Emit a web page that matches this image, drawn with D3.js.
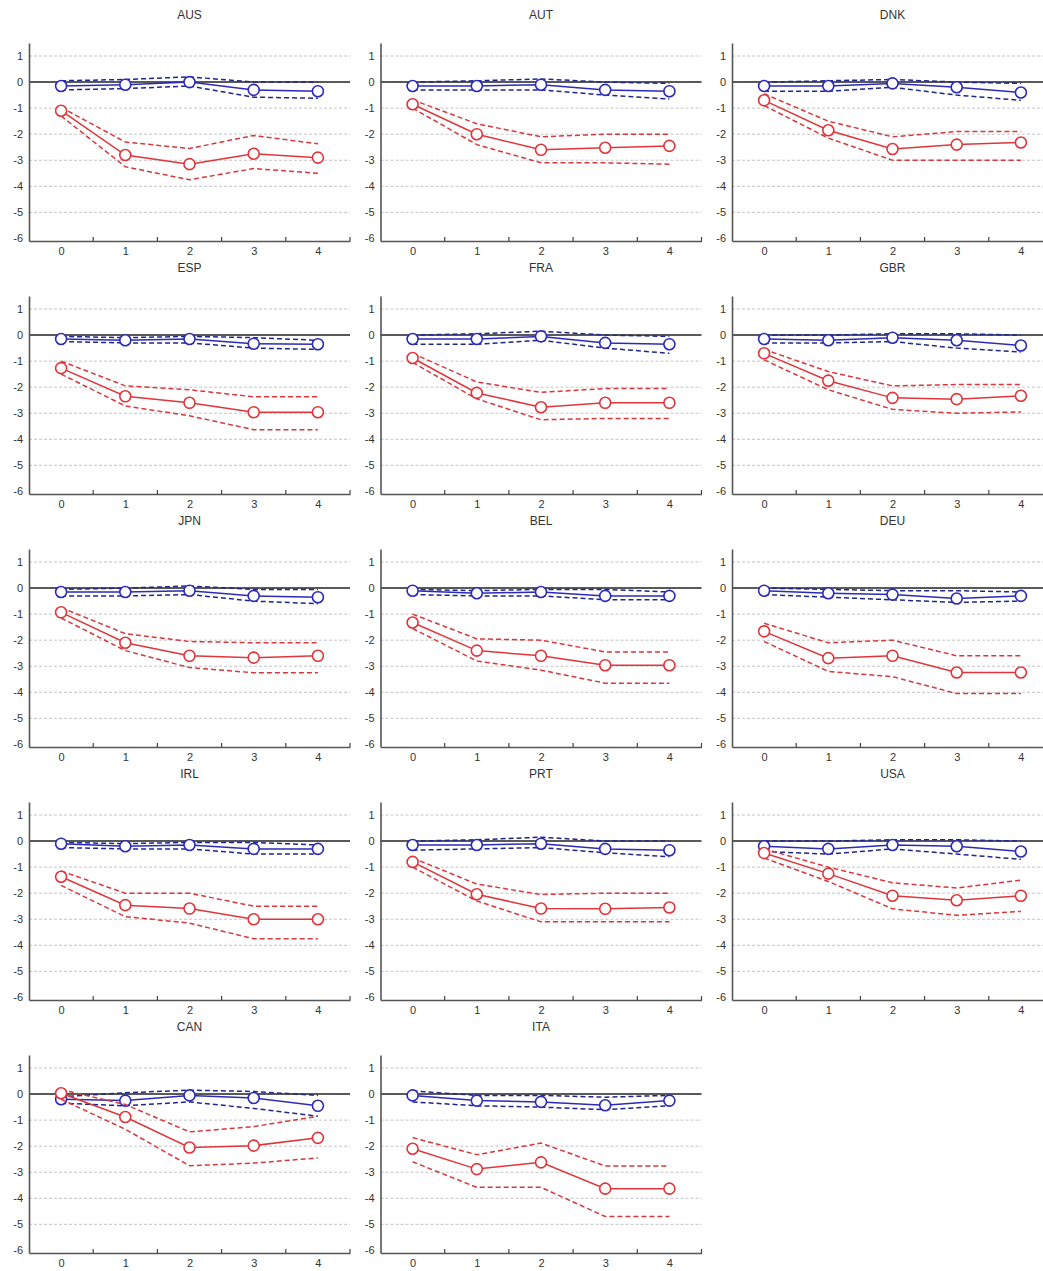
<!DOCTYPE html>
<html lang="en">
<head>
<meta charset="UTF-8">
<title>Responses by country</title>
<style>
  body { margin: 0; background: #fff; }
  svg text { font-family: Arial, "Liberation Sans", sans-serif; fill: #333; }
</style>
</head>
<body>
<svg width="1043" height="1271"></svg>
<script src="https://d3js.org/d3.v7.min.js"></script>
<script>

var countries = ["AUS", "AUT", "DNK", "ESP", "FRA", "GBR", "JPN", "BEL", "DEU", "IRL", "PRT", "USA", "CAN", "ITA"];
var horizons = [0, 1, 2, 3, 4];
var yTicks = [1, 0, -1, -2, -3, -4, -5, -6];
var gridValues = [1, -1, -2, -3, -4, -5];
var xMinorTicks = [0.5, 1.5, 2.5, 3.5, 4.5];

// blue series (one row per country, same order as countries)
var blueMean = [
  [-0.15, -0.1, 0.0, -0.3, -0.35],
  [-0.15, -0.15, -0.1, -0.3, -0.35],
  [-0.15, -0.15, -0.05, -0.2, -0.4],
  [-0.15, -0.2, -0.15, -0.33, -0.35],
  [-0.15, -0.15, -0.05, -0.3, -0.35],
  [-0.15, -0.2, -0.1, -0.2, -0.4],
  [-0.15, -0.15, -0.1, -0.3, -0.35],
  [-0.1, -0.2, -0.15, -0.3, -0.3],
  [-0.1, -0.2, -0.25, -0.4, -0.3],
  [-0.1, -0.2, -0.15, -0.3, -0.3],
  [-0.15, -0.15, -0.1, -0.3, -0.35],
  [-0.2, -0.3, -0.15, -0.2, -0.4],
  [-0.2, -0.25, -0.05, -0.15, -0.45],
  [-0.05, -0.25, -0.3, -0.43, -0.25]
];
var blueUpper = [
  [0.05, 0.1, 0.2, 0.0, 0.0],
  [0.0, 0.05, 0.12, 0.0, -0.05],
  [0.0, 0.05, 0.1, 0.0, -0.05],
  [-0.05, -0.1, -0.05, -0.1, -0.2],
  [0.0, 0.05, 0.15, 0.0, -0.05],
  [0.0, 0.0, 0.05, 0.05, 0.0],
  [-0.05, 0.0, 0.08, -0.05, -0.05],
  [-0.05, -0.1, -0.05, -0.05, -0.15],
  [0.0, -0.05, -0.1, -0.1, -0.15],
  [-0.05, -0.1, -0.05, -0.05, -0.15],
  [0.0, 0.05, 0.15, 0.0, 0.0],
  [0.0, 0.0, 0.05, 0.05, 0.0],
  [-0.1, 0.05, 0.15, 0.1, -0.05],
  [0.12, -0.05, -0.05, -0.12, -0.05]
];
var blueLower = [
  [-0.3, -0.25, -0.15, -0.58, -0.62],
  [-0.3, -0.3, -0.3, -0.5, -0.65],
  [-0.35, -0.35, -0.2, -0.5, -0.7],
  [-0.25, -0.3, -0.3, -0.5, -0.55],
  [-0.35, -0.35, -0.2, -0.5, -0.7],
  [-0.3, -0.3, -0.25, -0.5, -0.65],
  [-0.3, -0.3, -0.25, -0.5, -0.6],
  [-0.25, -0.3, -0.3, -0.45, -0.45],
  [-0.25, -0.35, -0.45, -0.55, -0.5],
  [-0.25, -0.3, -0.3, -0.5, -0.5],
  [-0.35, -0.3, -0.25, -0.45, -0.6],
  [-0.4, -0.5, -0.3, -0.5, -0.7],
  [-0.35, -0.45, -0.3, -0.55, -0.85],
  [-0.3, -0.45, -0.5, -0.6, -0.45]
];

// red series
var redMean = [
  [-1.1, -2.8, -3.15, -2.75, -2.9],
  [-0.85, -2.0, -2.6, -2.52, -2.45],
  [-0.7, -1.85, -2.57, -2.4, -2.32],
  [-1.27, -2.35, -2.6, -2.96, -2.96],
  [-0.88, -2.22, -2.77, -2.6, -2.6],
  [-0.7, -1.75, -2.41, -2.46, -2.33],
  [-0.93, -2.1, -2.6, -2.67, -2.6],
  [-1.32, -2.4, -2.6, -2.96, -2.96],
  [-1.66, -2.69, -2.6, -3.24, -3.24],
  [-1.37, -2.46, -2.59, -3.0, -3.0],
  [-0.8, -2.04, -2.59, -2.6, -2.55],
  [-0.46, -1.25, -2.1, -2.27, -2.1],
  [0.03, -0.88, -2.05, -1.98, -1.68],
  [-2.1, -2.88, -2.62, -3.63, -3.63]
];
var redUpper = [
  [-0.97, -2.3, -2.55, -2.05, -2.37],
  [-0.68, -1.6, -2.1, -2.0, -2.0],
  [-0.45, -1.5, -2.1, -1.9, -1.9],
  [-1.0, -1.95, -2.1, -2.37, -2.37],
  [-0.7, -1.8, -2.2, -2.05, -2.05],
  [-0.55, -1.4, -1.95, -1.9, -1.9],
  [-0.75, -1.75, -2.05, -2.1, -2.1],
  [-1.0, -1.95, -2.0, -2.45, -2.45],
  [-1.35, -2.1, -2.0, -2.6, -2.6],
  [-1.15, -2.0, -2.0, -2.5, -2.5],
  [-0.65, -1.65, -2.05, -2.0, -2.0],
  [-0.3, -1.0, -1.6, -1.8, -1.5],
  [0.17, -0.4, -1.45, -1.25, -0.85],
  [-1.67, -2.33, -1.88, -2.76, -2.76]
];
var redLower = [
  [-1.3, -3.25, -3.75, -3.32, -3.5],
  [-1.0, -2.4, -3.1, -3.1, -3.15],
  [-0.9, -2.15, -3.0, -3.0, -3.0],
  [-1.5, -2.72, -3.1, -3.63, -3.63],
  [-1.05, -2.45, -3.25, -3.2, -3.2],
  [-0.95, -2.1, -2.85, -3.0, -2.95],
  [-1.15, -2.4, -3.05, -3.25, -3.25],
  [-1.55, -2.8, -3.15, -3.65, -3.65],
  [-2.05, -3.2, -3.4, -4.05, -4.05],
  [-1.7, -2.9, -3.15, -3.75, -3.75],
  [-1.0, -2.3, -3.1, -3.1, -3.1],
  [-0.65, -1.55, -2.6, -2.85, -2.7],
  [-0.2, -1.35, -2.75, -2.65, -2.45],
  [-2.6, -3.58, -3.58, -4.7, -4.7]
];

var svg = d3.select("svg");
var ncols = 3,
    colStep = 351.5, rowStep = 253,
    padLeft = 29, padTop = 43,
    w = 321, h = 198;

var x = d3.scaleLinear().domain([-0.5, 4.5]).range([0, w]);
var y = d3.scaleLinear().domain([-6.1, 1.5]).range([h, 0]);

var blue = "#2b2bb8", blueDash = "#1f2690",
    red = "#e0363b", redDash = "#d8383d";

// plain hyphen minus, like the original
var fmt = function(d) { return String(d); };

countries.forEach(function(name, i) {
  var col = i % ncols, row = Math.floor(i / ncols);
  var g = svg.append("g")
      .attr("transform", "translate(" + (padLeft + col * colStep) + "," + (padTop + row * rowStep) + ")");

  g.append("text")
      .attr("x", w / 2).attr("y", -24)
      .attr("text-anchor", "middle")
      .style("font-size", "12px")
      .text(name);

  // grid
  g.selectAll(".grid").data(gridValues).enter().append("line")
      .attr("x1", 0).attr("x2", w)
      .attr("y1", function(d) { return y(d); }).attr("y2", function(d) { return y(d); })
      .attr("stroke", "#c4c4c4").attr("stroke-width", 1)
      .attr("stroke-dasharray", "3,2");

  g.append("line")
      .attr("x1", 0).attr("x2", w)
      .attr("y1", y(0)).attr("y2", y(0))
      .attr("stroke", "#222").attr("stroke-width", 1.5);

  // axes
  var yAxis = d3.axisLeft(y).tickValues(yTicks).tickSize(0).tickPadding(6)
      .tickFormat(fmt);
  var yg = g.append("g").call(yAxis);
  yg.select(".domain").attr("stroke", "#555").attr("stroke-width", 1.6);
  yg.selectAll("text").style("font-size", "11px").attr("fill", "#333");

  var xAxis = d3.axisBottom(x).tickValues(horizons).tickSize(0).tickPadding(6)
      .tickFormat(fmt);
  var xg = g.append("g").attr("transform", "translate(0," + h + ")").call(xAxis);
  xg.select(".domain").attr("stroke", "#555").attr("stroke-width", 1.6);
  xg.selectAll("text").style("font-size", "11px").attr("fill", "#333");

  g.selectAll(".minor").data(xMinorTicks).enter().append("line")
      .attr("x1", function(d) { return x(d); }).attr("x2", function(d) { return x(d); })
      .attr("y1", h).attr("y2", h - 4)
      .attr("stroke", "#444").attr("stroke-width", 1.2);

  function lineOf(vals) {
    return d3.line()
      .x(function(d) { return x(d); })
      .y(function(d, j) { return y(vals[j]); })(horizons);
  }

  function series(mean, upper, lower, c, cd) {
    [upper, lower].forEach(function(band) {
      g.append("path")
        .attr("d", lineOf(band))
        .attr("fill", "none")
        .attr("stroke", cd).attr("stroke-width", 1.5)
        .attr("stroke-dasharray", "5,3");
    });
    g.append("path")
      .attr("d", lineOf(mean))
      .attr("fill", "none")
      .attr("stroke", c).attr("stroke-width", 1.5);
    g.selectAll(null).data(horizons).enter().append("circle")
      .attr("cx", function(d) { return x(d); })
      .attr("cy", function(d, j) { return y(mean[j]); })
      .attr("r", 5.5)
      .attr("fill", "#fff")
      .attr("stroke", c).attr("stroke-width", 1.6);
  }

  series(blueMean[i], blueUpper[i], blueLower[i], blue, blueDash);
  series(redMean[i], redUpper[i], redLower[i], red, redDash);
});

</script>
</body>
</html>
